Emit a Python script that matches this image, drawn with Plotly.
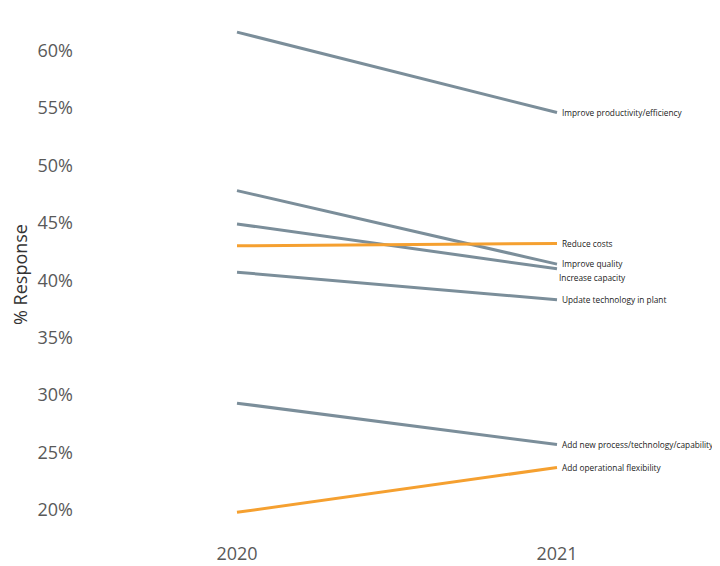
import plotly.graph_objects as go

years = ["2020", "2021"]
series_names = [
    "Improve productivity/efficiency",
    "Improve quality",
    "Increase capacity",
    "Reduce costs",
    "Update technology in plant",
    "Add new process/technology/capability",
    "Add operational flexibility",
]
values_2020 = [61.6, 47.8, 44.9, 43.0, 40.7, 29.3, 19.8]
values_2021 = [54.6, 41.4, 41.0, 43.2, 38.3, 25.7, 23.7]
highlight = ["Reduce costs", "Add operational flexibility"]

GRAY = "#7b8e9a"
ORANGE = "#f5a030"

fig = go.Figure()
for name, a, b in zip(series_names, values_2020, values_2021):
    fig.add_trace(go.Scatter(
        x=years, y=[a / 100, b / 100], mode="lines", name=name,
        line=dict(color=ORANGE if name in highlight else GRAY, width=3),
        showlegend=False, hoverinfo="skip",
    ))

last_idx = len(years) - 1
for name, b in zip(series_names, values_2021):
    xs, ys = 3, 0
    if name == "Improve quality":
        ys = 1
    if name == "Increase capacity":
        xs, ys = 0, -9
    fig.add_annotation(
        x=last_idx, y=b / 100, xref="x", yref="y", text=name, showarrow=False,
        xanchor="left", yanchor="middle", xshift=xs, yshift=ys,
        font=dict(family="Open Sans", size=8.3, color="#222222"),
    )

fig.update_layout(
    width=712, height=558,
    margin=dict(l=69, r=3, t=7.5, b=33),
    plot_bgcolor="white", paper_bgcolor="white",
    font=dict(family="Open Sans", color="#595959"),
    xaxis=dict(type="category", range=[-0.5, 1.5], showgrid=False, zeroline=False,
               showline=False, ticks="", automargin=False, ticklabelstandoff=8,
               tickfont=dict(size=18, color="#595959")),
    yaxis=dict(range=[0.18, 0.63], tickformat=".0%", dtick=0.05, showgrid=False,
               zeroline=False, showline=False, ticks="", automargin=False,
               ticklabelstandoff=3,
               tickfont=dict(size=18, color="#595959"),
               title=dict(text="% Response", font=dict(size=18, color="#333333"), standoff=8)),
)

fig.write_html("out.html")
